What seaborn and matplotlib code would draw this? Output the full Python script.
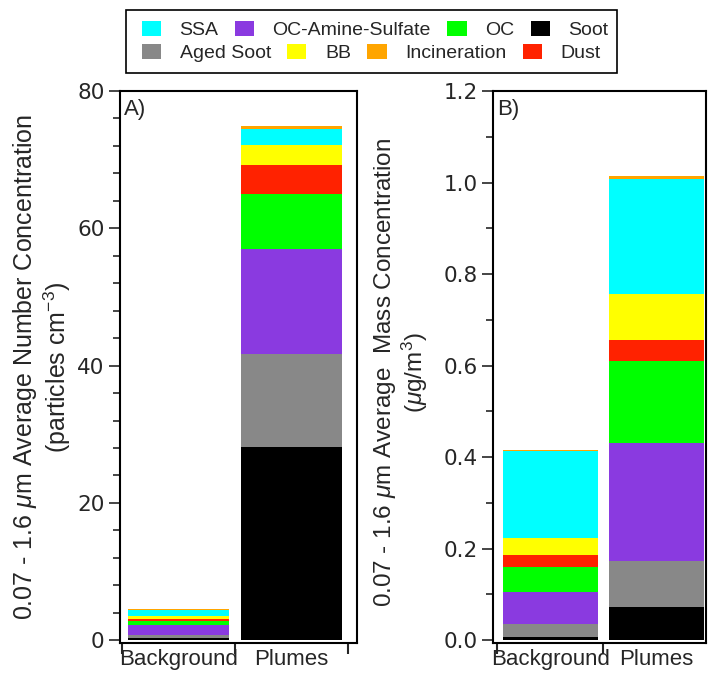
import numpy as np
import pandas as pd
import matplotlib
matplotlib.use("Agg")
import matplotlib.pyplot as plt
import matplotlib.patches as mpatches
import seaborn as sns

categories = ["Background", "Plumes"]
# stacking order bottom -> top
components = ["Soot", "Aged Soot", "OC-Amine-Sulfate", "OC", "Dust", "BB", "SSA", "Incineration"]
number_background = [0.3, 0.5, 1.45, 0.55, 0.32, 0.38, 0.93, 0.12]
number_plumes = [28.1, 13.6, 15.3, 8.05, 4.2, 2.85, 2.4, 0.45]
mass_background = [0.0065, 0.0295, 0.069, 0.056, 0.025, 0.037, 0.19, 0.002]
mass_plumes = [0.0726, 0.101, 0.258, 0.179, 0.046, 0.099, 0.252, 0.0065]

colors = {
    "SSA": "#00FFFF",
    "OC-Amine-Sulfate": "#8A3AE0",
    "OC": "#00FF00",
    "Soot": "#000000",
    "Aged Soot": "#888888",
    "BB": "#FFFF00",
    "Incineration": "#FFA500",
    "Dust": "#FF2200",
}
legend_row1 = ["SSA", "OC-Amine-Sulfate", "OC", "Soot"]
legend_row2 = ["Aged Soot", "BB", "Incineration", "Dust"]

sns.set_theme(style="ticks")
plt.rcParams["font.family"] = ["DejaVu Sans"]
plt.rcParams["mathtext.fontset"] = "custom"
plt.rcParams["mathtext.rm"] = "Liberation Sans"
plt.rcParams["mathtext.it"] = "Liberation Sans:italic"
plt.rcParams["mathtext.bf"] = "Liberation Sans:bold"

SANS = ["Liberation Sans", "DejaVu Sans"]

W, H = 708, 674
fig = plt.figure(figsize=(W / 100, H / 100), dpi=100)
axA = fig.add_axes([120 / W, 1 - 643 / H, 237 / W, 552 / H])
axB = fig.add_axes([493 / W, 1 - 643 / H, 213 / W, 552 / H])


def stacked(ax, bg, pl):
    df = pd.DataFrame({"component": np.repeat(components, 2),
                       "category": categories * len(components),
                       "value": np.ravel(np.column_stack([bg, pl]))})
    df["cum"] = df.groupby("category")["value"].cumsum()
    # draw from top layer downwards so lower layers overlay
    for comp in reversed(components):
        sub = df[df["component"] == comp]
        sns.barplot(data=sub, x="category", y="cum", order=categories,
                    color=colors[comp], width=0.895, ax=ax,
                    saturation=1, edgecolor="none", linewidth=0, errorbar=None)


stacked(axA, number_background, number_plumes)
stacked(axB, mass_background, mass_plumes)

for ax in (axA, axB):
    ax.set_xticks([-0.5, 0.5, 1.5])
    ax.set_xticklabels([])
    ax.set_xticks([0, 1], minor=True)
    ax.set_xticklabels(categories, minor=True, fontsize=16, family=SANS)
    ax.tick_params(axis="x", which="minor", length=0, pad=4.5)
    ax.tick_params(axis="x", which="major", length=8, width=1.5, direction="out")
    ax.tick_params(axis="y", which="major", length=8, width=1.2, labelsize=15.5,
                   direction="out", pad=3)
    ax.tick_params(axis="y", which="minor", length=5, width=1.2, direction="out")
    ax.set_xlabel("")
    for s in ax.spines.values():
        s.set_linewidth(1.5)
        s.set_color("black")

axA.set_xlim(-0.518, 1.58)
axB.set_xlim(-0.538, 1.47)

axA.set_ylim(-0.4, 80)
axA.set_yticks([0, 20, 40, 60, 80])
axA.set_yticks(np.arange(0, 81, 4), minor=True)
axA.set_ylabel("0.07 - 1.6 $\\mu$m Average Number Concentration\n(particles cm$^{-3}$)",
               fontsize=18, family=SANS, linespacing=1.1)
axA.yaxis.set_label_coords(-0.2, 0.5)
axA.text(0.015, 0.985, "A)", transform=axA.transAxes, fontsize=16, va="top", ha="left",
         family=SANS)

axB.set_ylim(-0.006, 1.2)
yt = np.arange(0, 1.21, 0.2)
axB.set_yticks(yt)
axB.set_yticklabels([f"{v:.1f}" for v in yt])
axB.set_yticks(np.arange(0, 1.21, 0.1), minor=True)
axB.set_ylabel("0.07 - 1.6 $\\mu$m Average  Mass Concentration\n($\\mu$g/m$^{3}$)",
               fontsize=17.5, family=SANS, linespacing=1.1)
axB.yaxis.set_label_coords(-0.295, 0.49)
axB.text(0.02, 0.985, "B)", transform=axB.transAxes, fontsize=16, va="top", ha="left",
         family=SANS)

# legend: two independent rows inside one frame
for row, yc in ((legend_row1, 30), (legend_row2, 53)):
    hs = [mpatches.Patch(facecolor=colors[c], edgecolor="none") for c in row]
    fig.legend(hs, row, ncol=4, loc="center left",
               bbox_to_anchor=(142 / W, 1 - yc / H), frameon=False,
               prop={"family": "Liberation Sans", "size": 14},
               handlelength=0.98, handleheight=0.82, handletextpad=0.95,
               columnspacing=0.85, borderpad=0, borderaxespad=0)
fig.add_artist(mpatches.Rectangle((126 / W, 1 - 73 / H), 491 / W, 63 / H,
                                  transform=fig.transFigure, fill=False,
                                  edgecolor="black", linewidth=1.2))

fig.savefig("out.png", dpi=100)
